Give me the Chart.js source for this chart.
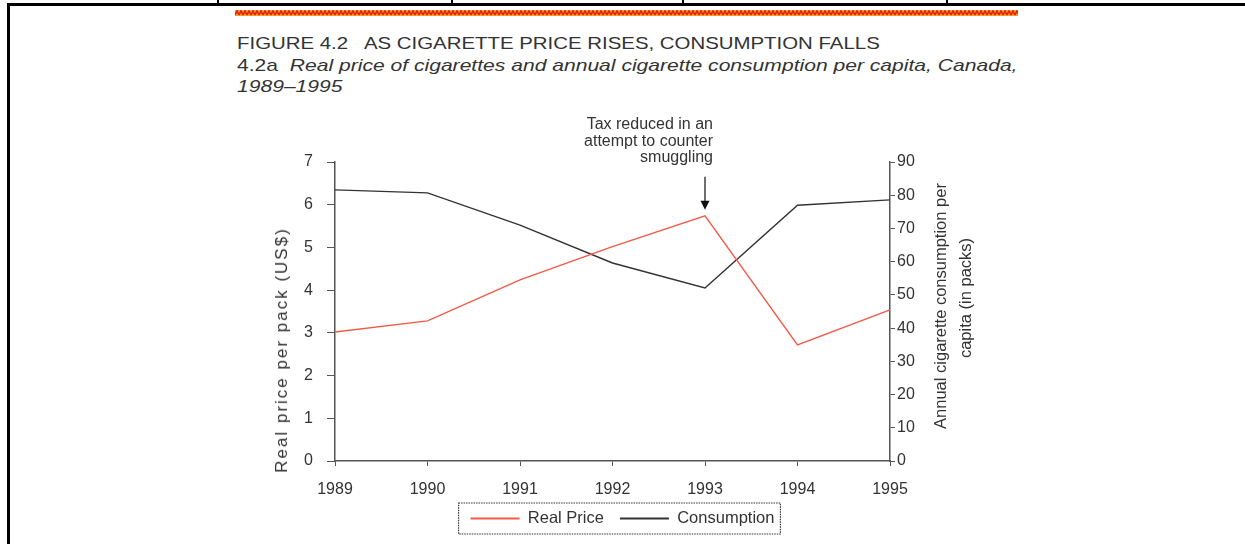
<!DOCTYPE html>
<html lang="en">
<head>
  <meta charset="UTF-8">
  <title>Cigarette price and consumption, Canada 1989-1995</title>
  <script src="https://cdn.jsdelivr.net/npm/chart.js"></script>
  <style>
    body { margin: 0; background: #fff; width: 1245px; height: 544px; overflow: hidden; position: relative; font-family: "Liberation Sans", Arial, sans-serif; color: #333; }
    .abs { position: absolute; }
    .txt { position: absolute; white-space: pre; line-height: 20px; }
    .hdr { font-size: 17px; transform: scaleX(1.2); transform-origin: left center; }
    .sub { transform: scaleX(1.24); }
    .vert { position: absolute; white-space: nowrap; font-size: 16.5px; transform: translate(-50%, -50%) rotate(-90deg); }
    #squiggle {
      left: 235px; top: 10px; width: 783px; height: 6px;
      background: #ff9f1c url("data:image/svg+xml,%3Csvg xmlns='http://www.w3.org/2000/svg' width='4' height='6'%3E%3Cpolyline points='0,5 2,1 4,5' fill='none' stroke='%23e01e14' stroke-width='1.6'/%3E%3C/svg%3E") repeat-x;
    }
    canvas { position: absolute; left: 0; top: 0; }
  </style>
</head>
<body>
  <div class="abs" style="left:7px; top:3px; width:1238px; height:3px; background:#000;"></div>
  <div class="abs" style="left:7px; top:3px; width:3px; height:541px; background:#000;"></div>
  <div class="abs" style="left:217px; top:0; width:2px; height:4px; background:#000;"></div>
  <div class="abs" style="left:451px; top:0; width:2px; height:4px; background:#000;"></div>
  <div class="abs" style="left:682px; top:0; width:2px; height:4px; background:#000;"></div>
  <div class="abs" style="left:946px; top:0; width:2px; height:4px; background:#000;"></div>
  <div class="abs" id="squiggle"></div>

  <div class="txt hdr" style="left:237px; top:34px;">FIGURE 4.2   AS CIGARETTE PRICE RISES, CONSUMPTION FALLS</div>
  <div class="txt hdr sub" style="left:237px; top:56px;">4.2a  <i>Real price of cigarettes and annual cigarette consumption per capita, Canada,</i></div>
  <div class="txt hdr sub" style="left:237px; top:77px;"><i>1989–1995</i></div>

  <canvas id="chart" width="1245" height="544"></canvas>

  <div class="vert" style="left:282px; top:350px; font-size:17px; letter-spacing:2px;">Real price per pack (US$)</div>
  <div class="vert" style="left:940px; top:306px;">Annual cigarette consumption per</div>
  <div class="vert" style="left:965px; top:298px;">capita (in packs)</div>

  <script>
    const years = ['1989', '1990', '1991', '1992', '1993', '1994', '1995'];
    const realPrice = [3.02, 3.28, 4.24, 5.02, 5.74, 2.72, 3.54];
    const consumption = [81.6, 80.7, 71.0, 59.6, 52.1, 77.0, 78.6];
    const priceTicks = [0, 1, 2, 3, 4, 5, 6, 7];
    const consumptionTicks = [0, 10, 20, 30, 40, 50, 60, 70, 80, 90];
    const noteLines = ['Tax reduced in an', 'attempt to counter', 'smuggling'];
    const noteYear = '1993';

    const FONT = '"Liberation Sans", Arial, sans-serif';
    const AXIS = '#555';

    // arrow + note over the 1993 price point, and the dotted frame round the legend
    const extras = {
      id: 'extras',
      afterDatasetsDraw(chart) {
        const ctx = chart.ctx;
        const pt = chart.getDatasetMeta(0).data[years.indexOf(noteYear)];
        const x = pt.x, y = pt.y;
        ctx.save();
        ctx.strokeStyle = '#222';
        ctx.lineWidth = 1.3;
        ctx.beginPath();
        ctx.moveTo(x, y - 39);
        ctx.lineTo(x, y - 12);
        ctx.stroke();
        ctx.fillStyle = '#111';
        ctx.beginPath();
        ctx.moveTo(x - 4.5, y - 15);
        ctx.lineTo(x + 4.5, y - 15);
        ctx.lineTo(x, y - 6);
        ctx.closePath();
        ctx.fill();
        ctx.font = '16px ' + FONT;
        ctx.fillStyle = '#333';
        ctx.textAlign = 'right';
        ctx.textBaseline = 'middle';
        noteLines.forEach((s, i) => ctx.fillText(s, x + 8, y - 91 + i * 16.5));
        ctx.restore();
      },
      afterDraw(chart) {
        const boxes = chart.legend.legendHitBoxes;
        if (!boxes || !boxes.length) return;
        const first = boxes[0], last = boxes[boxes.length - 1];
        const left = first.left - 12;
        const right = last.left + last.width + 6;
        const cy = first.top + first.height / 2;
        const ctx = chart.ctx;
        ctx.save();
        ctx.strokeStyle = '#333';
        ctx.lineWidth = 1.2;
        ctx.setLineDash([1.5, 1]);
        ctx.strokeRect(left, cy - 15.5, right - left, 31);
        ctx.restore();
      }
    };

    new Chart(document.getElementById('chart').getContext('2d'), {
      type: 'line',
      data: {
        labels: years,
        datasets: [
          {
            label: 'Real Price',
            data: realPrice,
            yAxisID: 'y',
            borderColor: '#f25a47',
            backgroundColor: '#f25a47',
            borderWidth: 1.4,
            pointRadius: 0,
            tension: 0,
            fill: false
          },
          {
            label: 'Consumption',
            data: consumption,
            yAxisID: 'y1',
            borderColor: '#333',
            backgroundColor: '#333',
            borderWidth: 1.4,
            pointRadius: 0,
            tension: 0,
            fill: false
          }
        ]
      },
      options: {
        responsive: false,
        animation: false,
        devicePixelRatio: 1,
        layout: { padding: { top: 162, left: 0, right: 0, bottom: 7.25 } },
        plugins: {
          tooltip: { enabled: false },
          legend: {
            position: 'bottom',
            labels: {
              boxWidth: 49,
              boxHeight: 2,
              padding: 16,
              color: '#333',
              font: { family: FONT, size: 16.5 },
              generateLabels(chart) {
                return chart.data.datasets.map((d, i) => ({
                  text: d.label,
                  fillStyle: d.borderColor,
                  strokeStyle: d.borderColor,
                  lineWidth: 0,
                  hidden: false,
                  datasetIndex: i,
                  fontColor: '#333'
                }));
              }
            }
          }
        },
        scales: {
          x: {
            offset: false,
            grid: { drawOnChartArea: false, drawTicks: true, tickLength: 5, color: AXIS },
            border: { color: AXIS, width: 1.5 },
            ticks: { color: '#333', font: { family: FONT, size: 16 }, padding: 14, maxRotation: 0, autoSkip: false },
            afterFit(scale) { scale.height = 33.25; }
          },
          y: {
            position: 'left',
            min: priceTicks[0],
            max: priceTicks[priceTicks.length - 1],
            afterBuildTicks(scale) { scale.ticks = priceTicks.map(v => ({ value: v })); },
            grid: { drawOnChartArea: false, drawTicks: true, tickLength: 8, color: AXIS },
            border: { color: AXIS, width: 1.5 },
            ticks: { color: '#333', font: { family: FONT, size: 16 }, padding: 14 },
            afterFit(scale) { scale.width = 335; }
          },
          y1: {
            position: 'right',
            min: consumptionTicks[0],
            max: consumptionTicks[consumptionTicks.length - 1],
            afterBuildTicks(scale) { scale.ticks = consumptionTicks.map(v => ({ value: v })); },
            grid: { drawOnChartArea: false, drawTicks: true, tickLength: 5, color: AXIS },
            border: { color: AXIS, width: 1.5 },
            ticks: { color: '#333', font: { family: FONT, size: 16 }, padding: 2 },
            afterFit(scale) { scale.width = 355; }
          }
        }
      },
      plugins: [extras]
    });
  </script>
</body>
</html>
